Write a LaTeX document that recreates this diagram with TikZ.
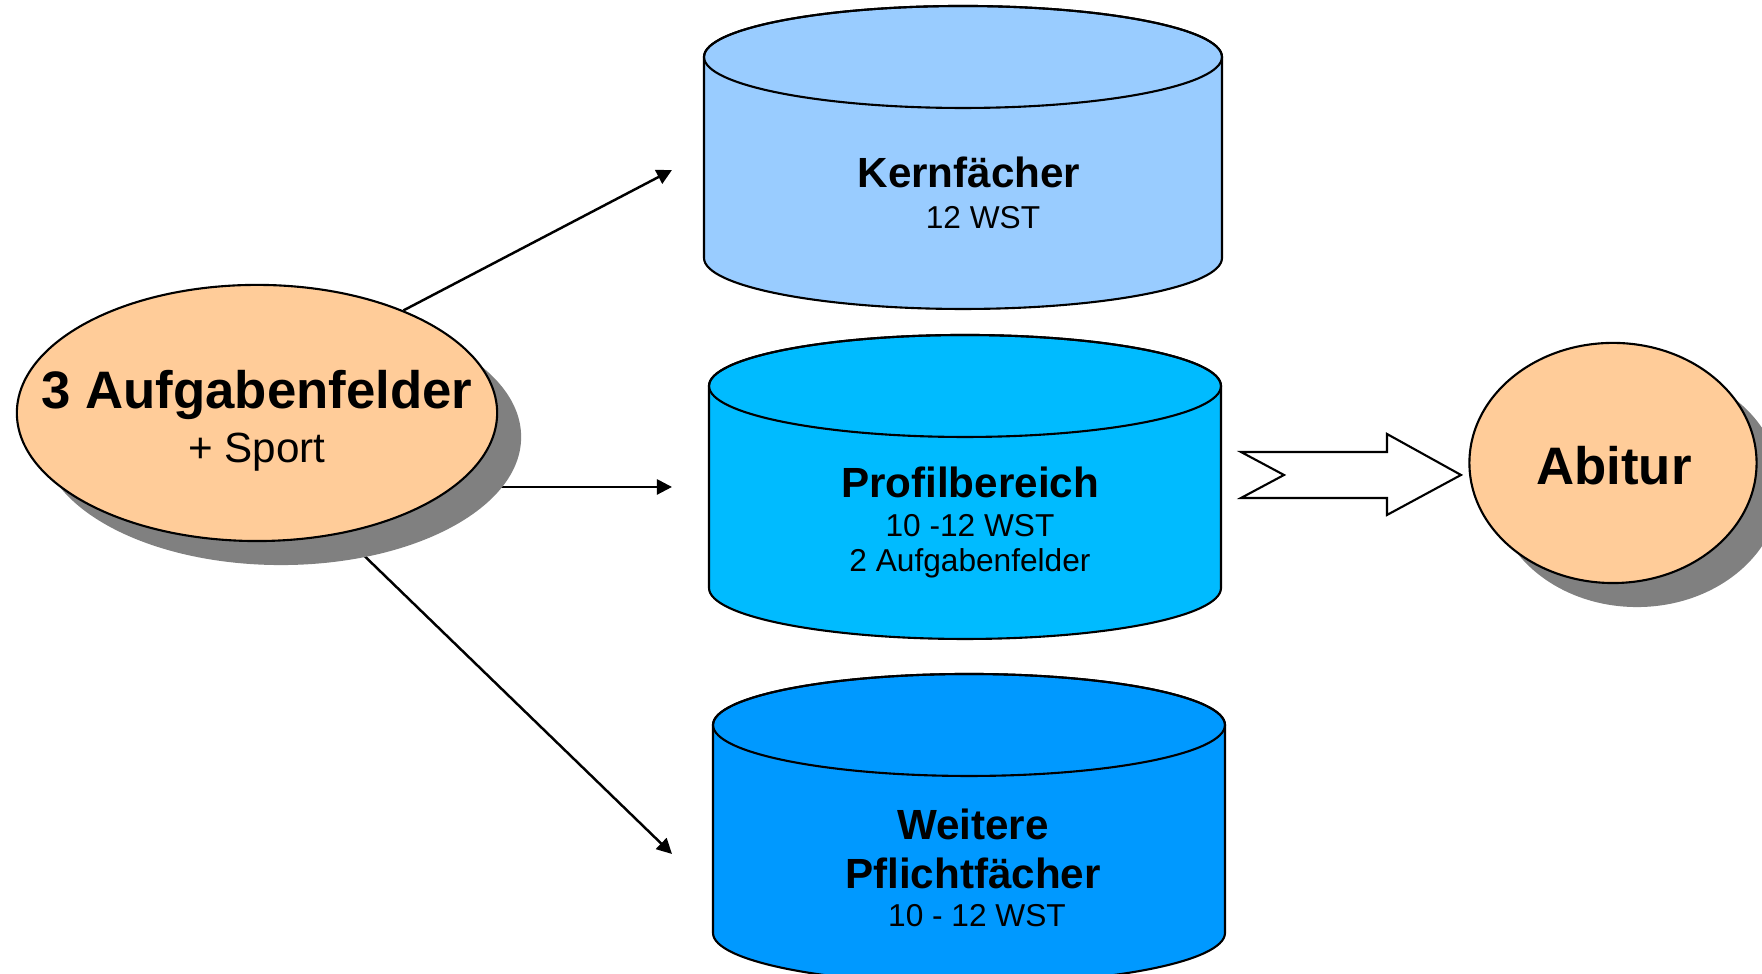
\documentclass[tikz,border=0pt]{standalone}
\usepackage{fontspec}
\setmainfont{Liberation Sans}
\usetikzlibrary{shapes.geometric,arrows.meta,shadows,backgrounds}
\definecolor{peach}{HTML}{FFCC99}
\definecolor{shadowgray}{HTML}{808080}
\definecolor{kernblue}{HTML}{99CCFF}
\definecolor{profblue}{HTML}{00BBFF}
\definecolor{pflblue}{HTML}{0099FF}
\begin{document}
\begin{tikzpicture}[x=0.01cm,y=0.01cm,
  outl/.style={draw=black,line width=0.6pt},
  conn/.style={line width=0.7pt,-{Triangle[length=4.3pt,width=4.3pt]}},
  titletext/.style={font=\fontsize{12}{14}\selectfont\bfseries,anchor=base,inner sep=0},
  subtext/.style={font=\fontsize{9}{11}\selectfont,anchor=base,inner sep=0},
  oval/.style={ellipse,draw=black,line width=0.6pt,fill=peach,inner sep=0,
     drop shadow={shadow xshift=0.24cm,shadow yshift=-0.24cm,fill=shadowgray,opacity=1}}
]
\useasboundingbox (0,0) rectangle (1762,974);
\clip (0,0) rectangle (1762,974);

% left oval
\node[oval,minimum width=4.8cm,minimum height=2.56cm] (auf) at (257,561) {};
\node[font=\fontsize{15}{18}\selectfont\bfseries,anchor=base,inner sep=0] (auft) at (257,565) {3 Aufgabenfelder};
\node[font=\fontsize{12}{14}\selectfont,anchor=base,inner sep=0] (sport) at (257,511) {+ Sport};

% Abitur oval
\node[oval,minimum width=2.87cm,minimum height=2.4cm,font=\fontsize{15}{18}\selectfont\bfseries] (abi) at (1613,511) {};
\node[font=\fontsize{15}{18}\selectfont\bfseries,anchor=base,inner sep=0] (abit) at (1614,489) {Abitur};

% arrow tips
\coordinate (t1) at (672,804);
\coordinate (t2) at (672,487);
\coordinate (t3) at (672,120);

\begin{scope}[on background layer]
\draw[conn] (auf.35.8) -- (t1);
\draw[conn] (t2 -| auf.-20.7) -- (t2);
\draw[conn] (auf.-55.95) -- (t3);
\end{scope}

% top cylinder
\path[outl,fill=kernblue] (704,917) -- (704,716) arc[start angle=180,end angle=360,x radius=259,y radius=51] -- (1222,917) arc[start angle=0,end angle=180,x radius=259,y radius=51] -- cycle;
\draw[outl] (963,917) ellipse [x radius=259,y radius=51];
\node[titletext] (kern) at (969,786) {Kernfächer};
\node[subtext] (kernw) at (983,745) {12 WST};

% middle cylinder
\path[outl,fill=profblue] (709,588) -- (709,386) arc[start angle=180,end angle=360,x radius=256,y radius=51] -- (1221,588) arc[start angle=0,end angle=180,x radius=256,y radius=51] -- cycle;
\draw[outl] (965,588) ellipse [x radius=256,y radius=51];
\node[titletext] (prof) at (970,476) {Profilbereich};
\node[subtext] (profw) at (970,437) {10 -12 WST};
\node[subtext] (profa) at (970,402) {2 Aufgabenfelder};

% bottom cylinder
\path[outl,fill=pflblue] (713,249) -- (713,41) arc[start angle=180,end angle=360,x radius=256,y radius=51] -- (1225,249) arc[start angle=0,end angle=180,x radius=256,y radius=51] -- cycle;
\draw[outl] (969,249) ellipse [x radius=256,y radius=51];
\node[titletext] (weit) at (973,134) {Weitere};
\node[titletext] (pfl) at (973,85) {Pflichtfächer};
\node[subtext] (pflw) at (977,47) {10 - 12 WST};

% notched block arrow
\draw[line width=0.6pt,fill=white] (1241,522) -- (1387,522) -- (1387,540) -- (1461,499) -- (1387,459) -- (1387,476) -- (1241,476) -- (1284,499) -- cycle;
\end{tikzpicture}
\end{document}
